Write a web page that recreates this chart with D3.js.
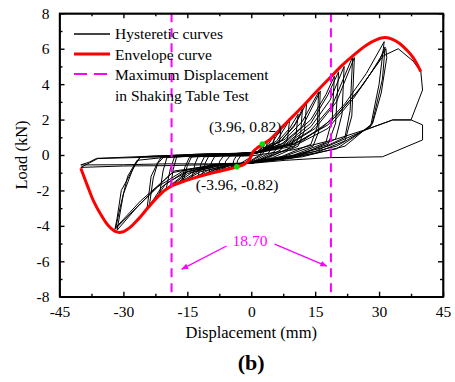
<!DOCTYPE html>
<html>
<head>
<meta charset="utf-8">
<script src="https://cdn.jsdelivr.net/npm/d3@7"></script>
<style>
  html, body { margin: 0; padding: 0; background: #fff; }
  svg { display: block; }
  svg text { font-family: 'Liberation Serif', 'Times New Roman', serif; fill: #000; }
  .axis path, .axis line { stroke: #000; stroke-width: 1.4; }
</style>
</head>
<body>
<svg id="chart" width="455" height="382"></svg>
<script>
const xTicks = [-45, -30, -15, 0, 15, 30, 45];
const xMinorTicks = [-37.5, -22.5, -7.5, 7.5, 22.5, 37.5];
const yTicks = [-8, -6, -4, -2, 0, 2, 4, 6, 8];
const yMinorTicks = [-7, -5, -3, -1, 1, 3, 5, 7];

const legendLabels = ['Hysteretic curves', 'Envelope curve', 'Maximum Displacement', 'in Shaking Table Test'];

// envelope curve [displacement mm, load kN]
const envelopePoints = [
  [-40.0, -0.75], [-38.5, -1.7], [-37.0, -2.6], [-35.2, -3.4], [-33.5, -4.0], [-31.8, -4.33],
  [-30.3, -4.35], [-28.5, -4.1], [-26.5, -3.62], [-24.5, -3.05], [-22.3, -2.45], [-20.2, -1.98],
  [-18.4, -1.72], [-16, -1.5], [-13.7, -1.32], [-11, -1.13], [-8.2, -0.96], [-5.5, -0.8],
  [-3.5, -0.68], [-1.5, -0.5], [-0.4, -0.25], [0.5, 0.2], [1.5, 0.42], [2.7, 0.6],
  [4.5, 0.9], [6.6, 1.41], [8.5, 1.88], [10.5, 2.36], [12.1, 2.75], [15, 3.5],
  [18.7, 4.42], [21.5, 5.1], [24.6, 5.75], [27, 6.2], [29.3, 6.5], [31.4, 6.63],
  [33.3, 6.52], [34.9, 6.28], [36.5, 5.92], [38.0, 5.5], [39.8, 4.71]
];

// hysteretic cycles, one loop each [mm, kN]
const hystereticCycles = [
  [[0, -0.1], [-2, -0.4], [-3.5, -0.66], [-3.2, -0.3], [-2.5, -0.05], [0, 0], [1.5, 0.2], [3, 0.62], [2.8, 0.3], [2, 0], [0, -0.3]],
  [[0, -0.3], [-2.5, -0.5], [-4.5, -0.74], [-4.1, -0.3], [-3.5, -0.05], [0, 0.02], [2, 0.25], [3.8, 0.8], [3.5, 0.35], [2.5, 0], [0, -0.35]],
  [[0, -0.35], [-3, -0.55], [-6.5, -0.86], [-6, -0.35], [-5, -0.05], [-1, 0.02], [2, 0.2], [4, 0.6], [5.5, 1.12], [5.1, 0.5], [4, 0.1], [1, -0.3], [0, -0.38]],
  [[0, -0.38], [-4, -0.6], [-8, -0.95], [-7.4, -0.35], [-6.5, -0.05], [-1, 0.03], [2, 0.2], [5, 0.7], [7, 1.5], [6.6, 0.7], [5.5, 0.2], [2, -0.25], [0, -0.4]],
  [[0, -0.4], [-5, -0.6], [-10, -1.05], [-9.3, -0.4], [-8.5, -0.05], [-2, 0.05], [2, 0.2], [6, 0.8], [9, 1.98], [8.5, 0.9], [7, 0.3], [3, -0.2], [0, -0.42]],
  [[0, -0.42], [-5, -0.6], [-9, -0.85], [-11.5, -1.15], [-10.8, -0.45], [-10, -0.08], [-3, 0.03], [2, 0.2], [6, 0.7], [9, 1.5], [11, 2.3], [10.5, 1.1], [9, 0.4], [4, -0.15], [0, -0.42]],
  [[0, -0.42], [-6, -0.6], [-12.5, -1.22], [-11.8, -0.5], [-11, -0.1], [-3, 0.02], [3, 0.25], [7, 0.8], [10, 1.6], [12, 2.6], [11.6, 1.2], [10, 0.45], [4, -0.1], [0, -0.43]],
  [[0, -0.42], [-5, -0.55], [-10, -0.85], [-14, -1.36], [-13.2, -0.5], [-12.5, -0.1], [-4, 0.03], [2, 0.2], [7, 0.8], [10.5, 1.8], [13, 2.95], [12.5, 1.4], [11, 0.5], [5, -0.15], [0, -0.45]],
  [[0, -0.45], [-6, -0.6], [-12, -0.95], [-16, -1.5], [-15, -0.6], [-14, -0.1], [-5, 0.02], [2, 0.2], [8, 0.9], [12, 1.9], [15.8, 3.55], [15.5, 1.6], [14, 0.6], [7, -0.1], [0, -0.45]],
  [[0, -0.45], [-6, -0.55], [-12, -0.85], [-16.3, -1.48], [-15.6, -0.7], [-14.5, -0.12], [-6, 0], [1, 0.1], [7, 0.6], [12, 1.6], [16.2, 3.6], [15.8, 1.3], [14.5, 0.5], [8, -0.05], [0, -0.42]],
  [[0, -0.42], [-7, -0.55], [-14, -1.0], [-19, -1.85], [-18.3, -0.8], [-17.5, -0.1], [-8, 0.02], [1, 0.15], [8, 0.7], [14, 2.0], [17.5, 3.4], [19.5, 4.45], [19, 2.0], [17.5, 0.7], [10, 0], [0, -0.45]],
  [[0, -0.45], [-8, -0.55], [-15, -1.05], [-20, -1.95], [-19, -0.8], [-18, -0.1], [-8, 0.02], [1, 0.15], [8, 0.6], [14, 1.8], [18, 3.4], [20.5, 4.7], [19.8, 1.8], [18, 0.6], [10, -0.05], [0, -0.45]],
  [[0, -0.45], [-8, -0.55], [-15, -0.95], [-21.5, -2.2], [-20.7, -0.9], [-19.8, -0.15], [-9, 0.02], [1, 0.12], [8, 0.55], [14, 1.6], [18.5, 3.1], [21.8, 5.0], [21.3, 2.3], [19.8, 0.9], [12, 0.05], [0, -0.45]],
  [[0, -0.45], [-8, -0.55], [-15, -0.95], [-20, -1.6], [-24, -3.0], [-23, -1.3], [-22, -0.5], [-20.5, -0.1], [-10, 0.03], [1, 0.1], [8, 0.5], [14, 1.4], [19, 2.8], [23.8, 5.55], [23.2, 2.5], [22, 1.0], [15, 0.2], [6, -0.2], [0, -0.45]],
  [[0, -0.45], [-8, -0.55], [-16, -1.0], [-21, -1.8], [-24.5, -3.1], [-23.5, -1.2], [-22, -0.45], [-21, -0.08], [-10, 0.05], [1, 0.1], [9, 0.6], [15, 1.5], [20, 3.0], [24.2, 5.5], [23.6, 2.2], [22, 0.8], [15, 0.1], [6, -0.25], [0, -0.45]],
  [[0, -0.45], [-8, -0.55], [-16, -0.9], [-22, -1.8], [-27, -3.0], [-31.5, -4.25], [-30, -2.2], [-27.5, -0.6], [-26, -0.1], [-12, 0.05], [1, 0.1], [10, 0.6], [17, 1.6], [22, 2.9], [27, 4.6], [31.2, 6.4], [31, 6.0], [30, 4.0], [28, 1.6], [20, 0.5], [10, -0.1], [0, -0.45]],
  [[0, -0.45], [-9, -0.55], [-18.6, -1.0], [-25, -2.5], [-32, -4.2], [-31.5, -3.6], [-30.5, -2.0], [-27, -0.47], [-26, -0.1], [-12, 0.05], [1, 0.1], [10, 0.5], [18, 1.5], [24, 3.2], [28, 4.6], [31.6, 6.0], [31.8, 5.5], [30.5, 3.5], [28.5, 1.8], [22, 0.5], [12, -0.1], [0, -0.45]],
  [[0, -0.45], [-9, -0.6], [-18, -0.9], [-26, -2.6], [-31.8, -4.1], [-30.8, -3.0], [-29, -1.2], [-26.8, -0.3], [-15, 0], [2, 0.15], [12, 0.8], [20, 2.2], [26, 3.9], [30, 5.3], [31.4, 6.1], [30.8, 4.3], [28.3, 1.7], [20, 0.35], [9, -0.2], [0, -0.45]],
  [[0, -0.45], [-10, -0.5], [-20, -0.5], [-30, -0.55], [-40, -0.56], [-38, -0.4], [-36.3, -0.19], [-25, -0.08], [-10, 0], [1, 0.1], [10, 0.6], [18, 1.7], [25, 3.6], [31, 5.6], [34.5, 6.0], [38, 5.3], [39.8, 4.7], [40.2, 3.67], [37.5, 1.98], [33.2, 1.98], [27.7, 1.5], [18, 0.5], [8, -0.15], [0, -0.45]],
  [[0, -0.45], [-10, -0.55], [-20, -0.6], [-30, -0.62], [-40, -0.7], [-38, -0.45], [-36, -0.2], [-20, -0.1], [0, -0.05], [10, 0.3], [20, 0.9], [27.7, 1.5], [33.2, 1.98], [37.5, 1.98], [40.2, 1.7], [40.2, 0.85], [30.8, -0.1], [18.3, -0.15], [8, -0.3], [0, -0.47]]
];

// maximum displacement in shaking table test (mm)
const maxDisplacement = [-18.7, 18.7];
const markedPoints = [[2.6, 0.62], [-3.4, -0.66]];
const pointLabels = ['(3.96, 0.82)', '(-3.96, -0.82)'];
const spanLabel = '18.70';

const width = 455;
const height = 382;
const margin = { top: 13.3, right: 12, bottom: 85.3, left: 59.5 };
const innerW = width - margin.left - margin.right;
const innerH = height - margin.top - margin.bottom;
const serif = "'Liberation Serif', 'Times New Roman', serif";

const svg = d3.select('#chart');

const x = d3.scaleLinear().domain([-45, 45]).range([margin.left, margin.left + innerW]);
const y = d3.scaleLinear().domain([-8, 8]).range([margin.top + innerH, margin.top]);

const plot = svg.append('g');

// hysteretic curves
const line = d3.line().x((d) => x(d[0])).y((d) => y(d[1]));
plot
  .append('g')
  .selectAll('path')
  .data(hystereticCycles)
  .join('path')
  .attr('d', line)
  .attr('fill', 'none')
  .attr('stroke', '#000')
  .attr('stroke-width', 1)
  .attr('stroke-linejoin', 'round');

// envelope
plot
  .append('path')
  .datum(envelopePoints)
  .attr('d', d3.line().curve(d3.curveCatmullRom).x((d) => x(d[0])).y((d) => y(d[1])))
  .attr('fill', 'none')
  .attr('stroke', '#ff0000')
  .attr('stroke-width', 3);

// dashed verticals
plot
  .selectAll('.max-line')
  .data(maxDisplacement)
  .join('line')
  .attr('class', 'max-line')
  .attr('x1', (d) => x(d))
  .attr('x2', (d) => x(d))
  .attr('y1', y(8))
  .attr('y2', y(-8))
  .attr('stroke', '#ff00ff')
  .attr('stroke-width', 2)
  .attr('stroke-dasharray', '9,6');

// green points
plot
  .selectAll('.mark')
  .data(markedPoints)
  .join('circle')
  .attr('class', 'mark')
  .attr('cx', (d) => x(d[0]))
  .attr('cy', (d) => y(d[1]))
  .attr('r', 2.8)
  .attr('fill', '#00e000');

plot
  .append('text')
  .attr('x', x(-1.4))
  .attr('y', y(1.3))
  .attr('text-anchor', 'middle')
  .attr('font-family', serif)
  .attr('font-size', 15.5)
  .text(pointLabels[0]);

plot
  .append('text')
  .attr('x', x(-3.3))
  .attr('y', y(-1.98))
  .attr('text-anchor', 'middle')
  .attr('font-family', serif)
  .attr('font-size', 15.5)
  .text(pointLabels[1]);

// span annotation with arrows
const defs = svg.append('defs');
defs
  .append('marker')
  .attr('id', 'arrow')
  .attr('viewBox', '0 0 10 10')
  .attr('refX', 9)
  .attr('refY', 5)
  .attr('markerWidth', 7)
  .attr('markerHeight', 7)
  .attr('markerUnits', 'userSpaceOnUse')
  .attr('orient', 'auto')
  .append('path')
  .attr('d', 'M0,1L10,5L0,9Z')
  .attr('fill', '#ff00ff');

const arrows = [
  [[-5.8, -5.14], [-16.3, -6.44]],
  [[5.5, -5.03], [17.7, -6.27]]
];
plot
  .selectAll('.arrow')
  .data(arrows)
  .join('line')
  .attr('class', 'arrow')
  .attr('x1', (d) => x(d[0][0]))
  .attr('y1', (d) => y(d[0][1]))
  .attr('x2', (d) => x(d[1][0]))
  .attr('y2', (d) => y(d[1][1]))
  .attr('stroke', '#ff00ff')
  .attr('stroke-width', 1.3)
  .attr('marker-end', 'url(#arrow)');

plot
  .append('text')
  .attr('x', x(-0.3))
  .attr('y', y(-5.14))
  .attr('text-anchor', 'middle')
  .attr('font-family', serif)
  .attr('font-size', 15.5)
  .style('fill', '#ff00ff')
  .text(spanLabel);

// axes
const bottom = margin.top + innerH;
const right = margin.left + innerW;
const fmt = (d) => String(d);

function addAxis(axis, transform, values, size, labelled, padding) {
  const g = svg
    .append('g')
    .attr('class', 'axis')
    .attr('transform', transform)
    .call(axis.tickValues(values).tickSizeInner(-size).tickSizeOuter(0).tickPadding(padding).tickFormat(labelled ? fmt : ''));
  g.attr('font-family', serif).attr('font-size', 15.5);
  return g;
}

addAxis(d3.axisBottom(x), `translate(0,${bottom})`, xTicks, 5, true, 9);
addAxis(d3.axisBottom(x), `translate(0,${bottom})`, xMinorTicks, 3, false, 0);
addAxis(d3.axisTop(x), `translate(0,${margin.top})`, xTicks, 5, false, 0);
addAxis(d3.axisTop(x), `translate(0,${margin.top})`, xMinorTicks, 3, false, 0);
addAxis(d3.axisLeft(y), `translate(${margin.left},0)`, yTicks, 5, true, 10);
addAxis(d3.axisLeft(y), `translate(${margin.left},0)`, yMinorTicks, 3, false, 0);
addAxis(d3.axisRight(y), `translate(${right},0)`, yTicks, 5, false, 0);
addAxis(d3.axisRight(y), `translate(${right},0)`, yMinorTicks, 3, false, 0);

svg
  .append('rect')
  .attr('x', margin.left)
  .attr('y', margin.top)
  .attr('width', innerW)
  .attr('height', innerH)
  .attr('fill', 'none')
  .attr('stroke', '#000')
  .attr('stroke-width', 1.4);

// axis titles
svg
  .append('text')
  .attr('transform', `translate(21,${y(0)}) rotate(-90)`)
  .attr('text-anchor', 'middle')
  .attr('dy', '0.35em')
  .attr('font-family', serif)
  .attr('font-size', 16.5)
  .text('Load (kN)');

svg
  .append('text')
  .attr('x', x(0))
  .attr('y', 338)
  .attr('text-anchor', 'middle')
  .attr('font-family', serif)
  .attr('font-size', 16.5)
  .text('Displacement (mm)');

svg
  .append('text')
  .attr('x', x(0))
  .attr('y', 370)
  .attr('text-anchor', 'middle')
  .attr('font-family', serif)
  .attr('font-size', 22)
  .attr('font-weight', 'bold')
  .text('(b)');

// legend
const legend = svg.append('g').attr('transform', 'translate(74,34)');
const legendStyles = [
  { stroke: '#444', width: 2, dash: null },
  { stroke: '#ff0000', width: 3, dash: null },
  { stroke: '#ff00ff', width: 2, dash: '13,7' }
];
legendStyles.forEach((s, i) => {
  legend
    .append('line')
    .attr('x1', 0)
    .attr('x2', 36)
    .attr('y1', i * 20)
    .attr('y2', i * 20)
    .attr('stroke', s.stroke)
    .attr('stroke-width', s.width)
    .attr('stroke-dasharray', s.dash);
});
legend
  .selectAll('text')
  .data(legendLabels)
  .join('text')
  .attr('x', 41)
  .attr('y', (d, i) => i * 20.5)
  .attr('dy', '0.35em')
  .attr('font-family', serif)
  .attr('font-size', 15.5)
  .text((d) => d);
</script>
</body>
</html>
